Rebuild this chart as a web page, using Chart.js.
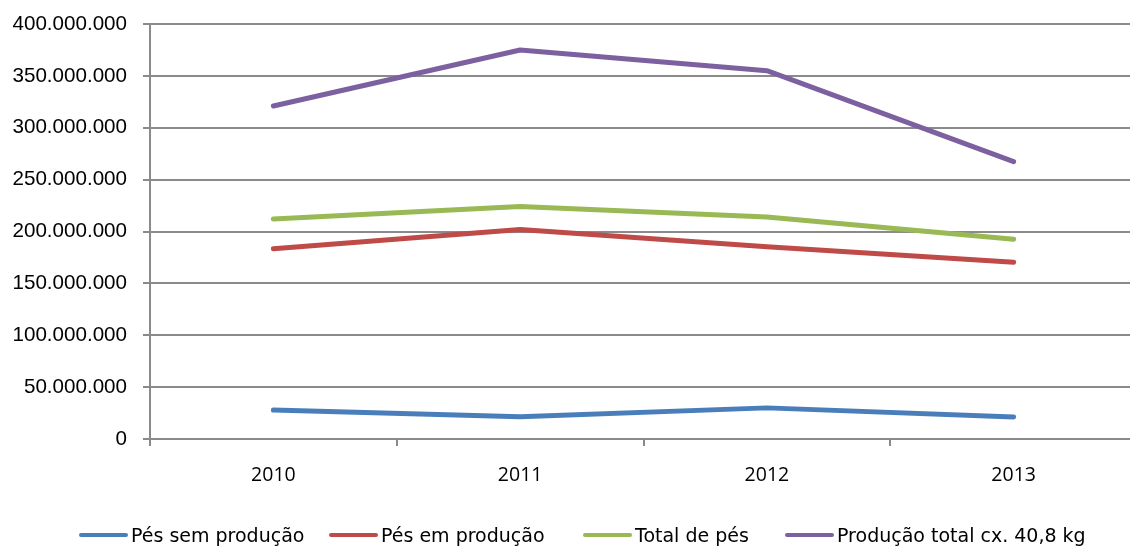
<!DOCTYPE html>
<html>
<head>
<meta charset="utf-8">
<script src="https://cdn.jsdelivr.net/npm/chart.js@4/dist/chart.umd.min.js"></script>
<style>
  html, body { margin: 0; padding: 0; background: #fff; overflow: hidden; }
  #wrap { position: relative; width: 1130px; height: 546px; overflow: hidden; }
  #wrap canvas { position: absolute; left: 0; top: 0; }
  .legend-item {
    position: absolute; top: 524px; height: 22px; line-height: 22px;
    display: flex; align-items: center; white-space: nowrap;
    font-family: "DejaVu Sans", sans-serif; font-size: 19px; color: #000;
  }
  .legend-swatch { display: inline-block; width: 49px; height: 4px; border-radius: 2px; margin-right: 3px; }
</style>
</head>
<body>
<div id="wrap">
  <canvas id="chart" width="1140" height="546"></canvas>
</div>
<script>
// Anos
const years = ['2010', '2011', '2012', '2013'];

// Séries
const seriesNames = ['Pés sem produção', 'Pés em produção', 'Total de pés', 'Produção total cx. 40,8 kg'];
const pesSemProducao = [28000000, 21500000, 30000000, 21200000];
const pesEmProducao = [183400000, 202000000, 185300000, 170300000];
const totalDePes = [212000000, 224000000, 214000000, 192500000];
const producaoTotal = [321000000, 375000000, 355000000, 267300000];

// Eixo Y
const yMin = 0;
const yMax = 400000000;
const yStep = 50000000;

const seriesColors = ['#4a7ebb', '#be4b48', '#98b954', '#7d60a0'];
const legendLeft = [79, 329, 583, 785];

function formatThousands(v) {
  return String(Math.round(v)).replace(/\B(?=(\d{3})+(?!\d))/g, '.');
}

const values = [pesSemProducao, pesEmProducao, totalDePes, producaoTotal];
const datasets = values.map((arr, i) => ({
  label: seriesNames[i],
  data: arr,
  borderColor: seriesColors[i],
  backgroundColor: seriesColors[i],
  borderWidth: 5,
  borderCapStyle: 'round',
  borderJoinStyle: 'round',
  pointRadius: 0,
  tension: 0,
  fill: false
}));

const axisGray = '#8a8a8a';

new Chart(document.getElementById('chart'), {
  type: 'line',
  data: { labels: years, datasets },
  options: {
    responsive: false,
    animation: false,
    layout: { padding: { top: 24, right: 3, left: 0, bottom: 0 } },
    plugins: { legend: { display: false }, tooltip: { enabled: false } },
    scales: {
      x: {
        offset: true,
        grid: { offset: true, drawOnChartArea: false, drawTicks: true, tickLength: 7, color: axisGray, lineWidth: 2 },
        border: { color: axisGray, width: 2 },
        ticks: { padding: 18, color: '#000', maxRotation: 0, font: { family: 'Open Sans', size: 19.5 } },
        afterFit(scale) { scale.height = 107; scale.paddingLeft = 0; scale.paddingRight = 0; }
      },
      y: {
        min: yMin,
        max: yMax,
        ticks: {
          stepSize: yStep,
          padding: 16,
          color: '#000',
          font: { family: 'Liberation Sans', size: 20.6 },
          callback: (v) => formatThousands(v)
        },
        grid: { color: axisGray, lineWidth: 2, drawTicks: true, tickLength: 7 },
        border: { color: axisGray, width: 2 },
        afterFit(scale) { scale.width = 150; scale.paddingTop = 0; scale.paddingBottom = 0; }
      }
    }
  }
});

// Legenda
const wrap = document.getElementById('wrap');
seriesNames.forEach((name, i) => {
  const item = document.createElement('div');
  item.className = 'legend-item';
  item.style.left = legendLeft[i] + 'px';
  const sw = document.createElement('span');
  sw.className = 'legend-swatch';
  sw.style.background = seriesColors[i];
  const txt = document.createElement('span');
  txt.textContent = name;
  item.appendChild(sw);
  item.appendChild(txt);
  wrap.appendChild(item);
});
</script>
</body>
</html>
